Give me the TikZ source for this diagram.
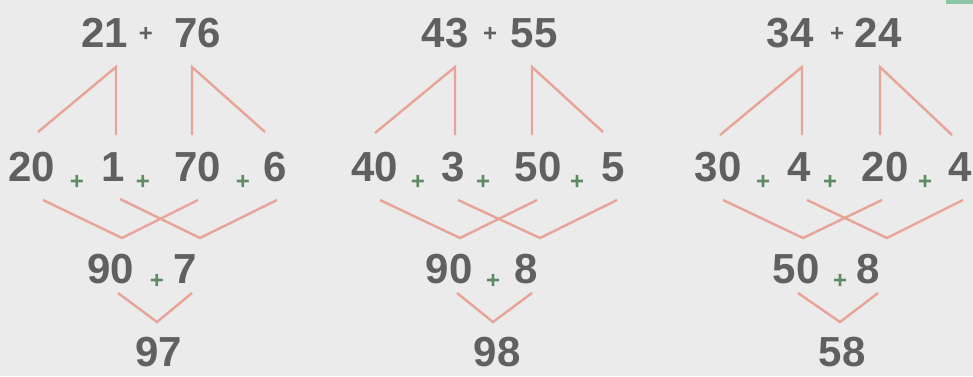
\documentclass[tikz,border=0pt]{standalone}
\usepackage{fontspec}
\setmainfont{Liberation Sans}
\definecolor{bgc}{HTML}{EBEBEB}
\definecolor{numc}{HTML}{606060}
\definecolor{linec}{HTML}{E8A496}
\definecolor{plusg}{HTML}{5E8A62}
\definecolor{tabg}{HTML}{8CC6A6}
\newcommand\Apex[4]{%
  \coordinate (#1-a) at (#2);
  \coordinate (#1-b) at (#3);
  \coordinate (#1-c) at (#4);
  \draw[link] (#1-a) -- (#1-b) -- (#1-c);}
\begin{document}
\begin{tikzpicture}[x=1pt,y=-1pt,
  num/.style={inner sep=0pt,text=numc,font=\bfseries\fontsize{42}{50}\selectfont},
  tplus/.style={inner sep=0pt,text=numc,font=\bfseries\fontsize{24}{30}\selectfont},
  gplus/.style={inner sep=0pt,text=plusg,font=\bfseries\fontsize{24}{28}\selectfont},
  link/.style={draw=linec,line width=2.4pt,line join=miter}]
\fill[bgc] (0,0) rectangle (973,376);
\useasboundingbox (0,0) rectangle (973,376);
\fill[tabg] (946,0) rectangle (973,4);
% ---------- panel 1
\node[num] (t1a) at (105,33) {21};
\node[tplus] (t1p) at (146,34) {+};
\node[num] (t1b) at (198,33) {76};
\node[num] (m1a) at (32,167) {20};
\node[gplus] (m1p1) at (77,182) {+};
\node[num] (m1b) at (113,167) {1};
\node[gplus] (m1p2) at (143,182) {+};
\node[num] (m1c) at (198,167) {70};
\node[gplus] (m1p3) at (243,182) {+};
\node[num] (m1d) at (275,167) {6};
\node[num] (b1a) at (111,269) {90};
\node[gplus] (b1p) at (157,281) {+};
\node[num] (b1b) at (185,269) {7};
\node[num] (r1) at (159,352) {97};
\Apex{l1L}{38,132}{116,67}{116,135}
\Apex{l1R}{192,135}{192,67}{265,132}
\Apex{v1A}{43,200}{122,238}{198,200}
\Apex{v1B}{120,199}{200,238}{277,200}
\Apex{v1C}{118,293}{157,322}{192,293}
% ---------- panel 2
\node[num] (t2a) at (445,33) {43};
\node[tplus] (t2p) at (490,34) {+};
\node[num] (t2b) at (534,33) {55};
\node[num] (m2a) at (375,167) {40};
\node[gplus] (m2p1) at (418,182) {+};
\node[num] (m2b) at (453,167) {3};
\node[gplus] (m2p2) at (483,182) {+};
\node[num] (m2c) at (538,167) {50};
\node[gplus] (m2p3) at (577,182) {+};
\node[num] (m2d) at (613,167) {5};
\node[num] (b2a) at (449,269) {90};
\node[gplus] (b2p) at (493,281) {+};
\node[num] (b2b) at (526,269) {8};
\node[num] (r2) at (497,352) {98};
\Apex{l2L}{375,133}{455,67}{455,135}
\Apex{l2R}{532,135}{532,67}{603,132}
\Apex{v2A}{380,200}{460,238}{537,200}
\Apex{v2B}{458,200}{540,238}{617,200}
\Apex{v2C}{457,293}{493,322}{532,293}
% ---------- panel 3
\node[num] (t3a) at (790,33) {34};
\node[tplus] (t3p) at (837,34) {+};
\node[num] (t3b) at (878,33) {24};
\node[num] (m3a) at (718,167) {30};
\node[gplus] (m3p1) at (763,182) {+};
\node[num] (m3b) at (799,167) {4};
\node[gplus] (m3p2) at (830,182) {+};
\node[num] (m3c) at (885,167) {20};
\node[gplus] (m3p3) at (925,182) {+};
\node[num] (m3d) at (960,167) {4};
\node[num] (b3a) at (796,269) {50};
\node[gplus] (b3p) at (840,281) {+};
\node[num] (b3b) at (868,269) {8};
\node[num] (r3) at (842,352) {58};
\Apex{l3L}{720,135}{802,67}{802,135}
\Apex{l3R}{880,135}{880,67}{952,135}
\Apex{v3A}{723,200}{803,238}{882,200}
\Apex{v3B}{807,200}{887,238}{963,200}
\Apex{v3C}{798,293}{840,322}{878,293}
\end{tikzpicture}
\end{document}
